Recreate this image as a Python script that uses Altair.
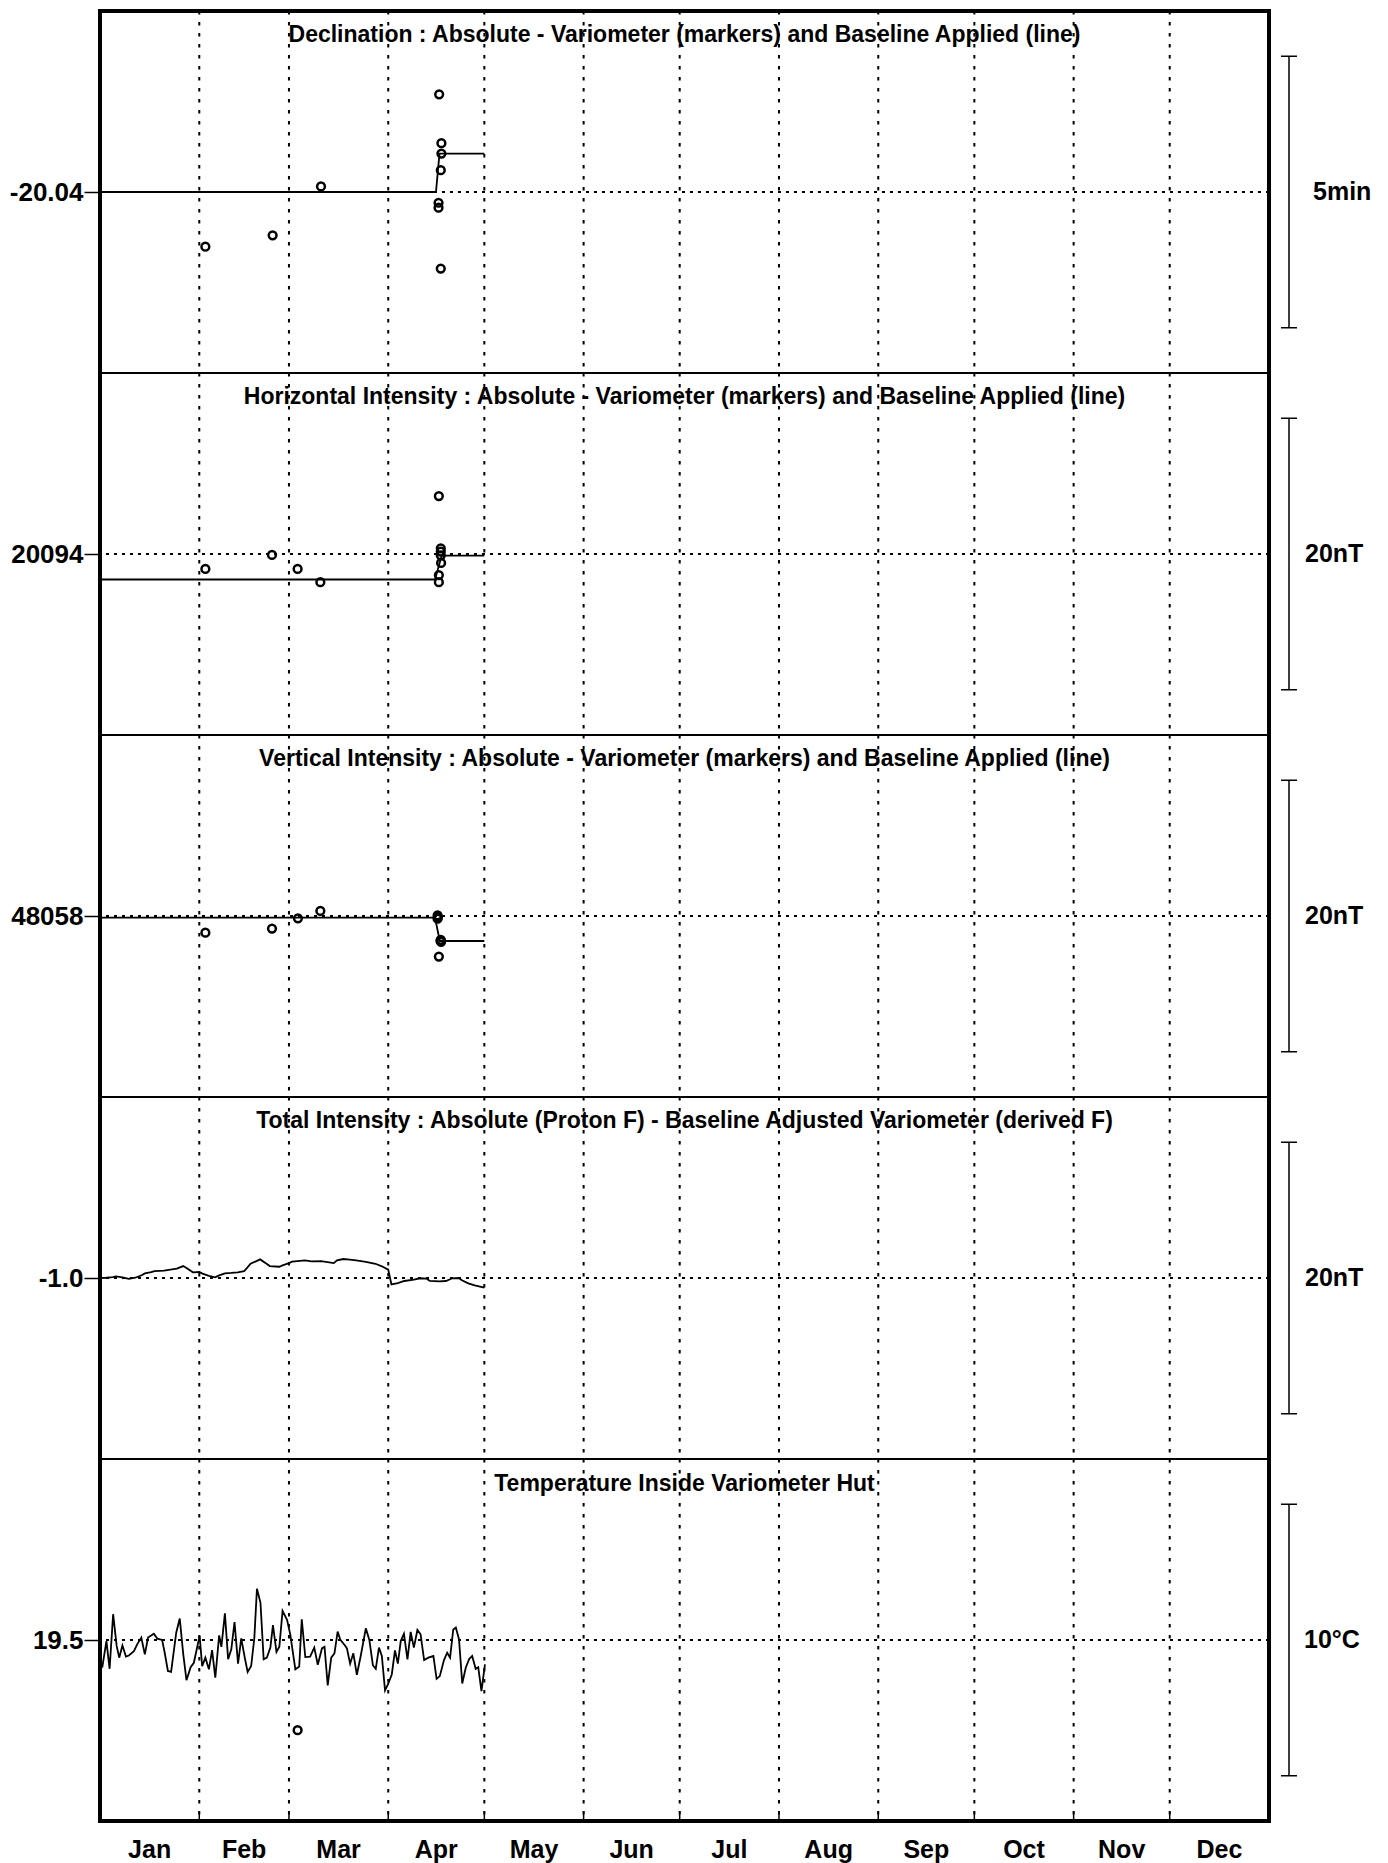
import altair as alt
import pandas as pd

FONT = "Liberation Sans"
W = 1169
H = 362

MONTHS = ["Jan", "Feb", "Mar", "Apr", "May", "Jun", "Jul", "Aug", "Sep", "Oct", "Nov", "Dec"]
MONTH_STARTS = [0, 31, 59, 90, 120, 151, 181, 212, 243, 273, 304, 334, 365]

PANEL_TITLES = [
    "Declination : Absolute - Variometer (markers) and Baseline Applied (line)",
    "Horizontal Intensity : Absolute - Variometer (markers) and Baseline Applied (line)",
    "Vertical Intensity : Absolute - Variometer (markers) and Baseline Applied (line)",
    "Total Intensity : Absolute (Proton F) - Baseline Adjusted Variometer (derived F)",
    "Temperature Inside Variometer Hut",
]
CENTERS = [-20.04, 20094, 48058, -1.0, 19.5]
SCALE_BAR = [5 / 60, 20, 20, 20, 10]
SCALE_LABELS = ["5min", "20nT", "20nT", "20nT", "10°C"]
FORMATS = [".2f", "d", "d", ".1f", ".1f"]

# Panel 1: Declination (degrees)
D_PT_DAY = [32.9, 53.9, 69.0, 105.9, 106.6, 106.6, 106.4, 105.7, 105.7, 106.4]
D_PT_VAL = [-20.0568, -20.0533, -20.0383, -20.0100, -20.0250, -20.0282, -20.0333, -20.0433, -20.0448, -20.0635]
D_BL_DAY = [0, 104.9, 106.0, 120]
D_BL_VAL = [-20.04, -20.04, -20.0282, -20.0282]

# Panel 2: Horizontal intensity (nT)
H_PT_DAY = [32.9, 53.7, 61.7, 68.8, 105.8, 106.4, 106.4, 106.4, 106.5, 105.8, 105.8]
H_PT_VAL = [20092.90, 20093.93, 20092.90, 20091.92, 20098.27, 20094.42, 20094.18, 20093.90, 20093.34, 20092.45, 20091.92]
H_BL_DAY = [0, 104.6, 106.7, 120]
H_BL_VAL = [20092.12, 20092.12, 20093.88, 20093.88]

# Panel 3: Vertical intensity (nT)
Z_PT_DAY = [32.9, 53.7, 61.8, 68.8, 105.4, 105.5, 105.4, 106.4, 106.5, 106.3, 105.8]
Z_PT_VAL = [48056.77, 48057.07, 48057.83, 48058.37, 48058.05, 48057.90, 48057.80, 48056.25, 48056.10, 48056.16, 48055.01]
Z_BL_DAY = [0, 104.6, 106.1, 120]
Z_BL_VAL = [48057.88, 48057.88, 48056.16, 48056.16]

# Panel 4: F difference (nT)
F_DAY = [0, 2, 4, 5, 7, 9, 11, 13, 14, 16, 17, 20, 22, 24, 26, 27, 29, 31, 32, 34,
         36, 37, 39, 41, 43, 45, 46, 47, 50, 52, 53, 56, 57, 59, 60, 64, 66, 69, 73, 74,
         76, 78, 80, 83, 86, 88, 90, 91, 93, 95, 98, 100, 102, 103, 106, 108, 110, 112, 113, 115,
         117, 120]
F_VAL = [-1.00, -0.98, -0.93, -0.88, -0.95, -1.07, -0.98, -0.80, -0.66, -0.56, -0.49, -0.46, -0.39, -0.31, -0.12, -0.26, -0.58, -0.56, -0.68, -0.85,
         -0.95, -0.83, -0.66, -0.63, -0.58, -0.49, -0.24, 0.05, 0.37, 0.05, -0.12, -0.17, -0.07, 0.10, 0.20, 0.30, 0.23, 0.25, 0.10, 0.30,
         0.40, 0.35, 0.30, 0.18, 0.05, -0.14, -0.39, -1.47, -1.37, -1.22, -1.12, -1.02, -1.05, -1.22, -1.25, -1.22, -1.02, -1.00, -1.17, -1.39,
         -1.54, -1.71]

# Panel 5: Temperature (deg C)
T_DAY = [0.7, 2.0, 3.0, 4.1, 5.2, 6.0, 7.0, 8.1, 9.0, 10.6, 11.6, 12.9, 14.0, 15.0, 16.8, 17.9, 19.4, 20.2, 21.2, 22.2,
         23.8, 24.9, 26.0, 27.0, 28.3, 29.3, 31.1, 31.9, 32.9, 34.0, 35.0, 36.0, 37.2, 37.9, 39.0, 40.0, 41.0, 42.0, 43.1, 44.1,
         45.2, 46.1, 47.2, 48.2, 49.0, 50.1, 51.1, 52.1, 53.2, 54.0, 55.1, 56.0, 57.0, 58.4, 59.4, 61.0, 62.2, 63.0, 64.1, 65.6,
         66.9, 68.0, 69.3, 70.1, 71.1, 72.2, 73.2, 74.2, 75.0, 76.6, 77.1, 78.1, 79.1, 80.2, 81.4, 83.0, 84.1, 85.2, 86.1, 87.1,
         88.0, 89.0, 90.0, 91.1, 92.1, 93.0, 93.9, 94.9, 96.0, 97.0, 98.0, 99.1, 100.1, 101.2, 102.5, 104.1, 105.1, 106.1, 107.4, 108.4,
         109.3, 110.3, 111.1, 112.1, 113.1, 114.2, 115.3, 116.2, 117.3, 118.1, 119.1, 120.2]
T_VAL = [18.48, 19.46, 18.44, 20.45, 19.28, 18.85, 19.30, 18.89, 18.93, 19.09, 19.34, 19.59, 18.97, 19.59, 19.73, 19.55, 19.50, 19.03, 18.36, 18.33,
         19.77, 20.29, 18.97, 18.02, 18.50, 18.66, 19.65, 18.54, 18.85, 18.42, 19.13, 18.11, 19.67, 19.25, 20.48, 18.79, 19.16, 20.16, 18.63, 19.56,
         18.85, 18.32, 18.54, 19.59, 21.39, 20.88, 18.79, 18.85, 19.22, 20.05, 19.06, 19.25, 20.57, 20.24, 19.71, 18.42, 18.52, 20.26, 18.87, 18.89,
         19.22, 18.59, 19.19, 19.25, 17.83, 18.85, 19.01, 19.81, 19.52, 19.28, 19.19, 18.63, 19.01, 18.22, 18.91, 19.93, 19.50, 18.57, 18.44, 19.22,
         18.91, 17.64, 17.89, 18.23, 19.12, 18.63, 19.46, 19.73, 18.79, 19.80, 19.22, 19.87, 19.71, 18.76, 18.85, 18.91, 18.07, 18.17, 18.76, 19.03,
         18.85, 19.89, 19.96, 19.52, 17.90, 18.48, 18.81, 18.91, 18.44, 18.50, 17.62, 18.60]
T_PT_DAY = [61.7]
T_PT_VAL = [16.18]

LINES = [
    (D_BL_DAY, D_BL_VAL),
    (H_BL_DAY, H_BL_VAL),
    (Z_BL_DAY, Z_BL_VAL),
    (F_DAY, F_VAL),
    (T_DAY, T_VAL),
]
POINTS = [
    (D_PT_DAY, D_PT_VAL),
    (H_PT_DAY, H_PT_VAL),
    (Z_PT_DAY, Z_PT_VAL),
    None,
    (T_PT_DAY, T_PT_VAL),
]
UNIT_DX = [44, 36, 36, 36, 35]
TITLE_Y = [24, 24, 24, 24, 25]

DUMMY = pd.DataFrame({"a": [0]})


def build_panel(i):
    c = CENTERS[i]
    bar = SCALE_BAR[i]
    ys = alt.Scale(domain=[c - bar * 2 / 3, c + bar * 2 / 3], nice=False, zero=False)
    xs = alt.Scale(domain=[0, 365], nice=False, zero=False)
    yaxis = alt.Axis(
        values=[c], format=FORMATS[i], title=None, grid=False, domain=False,
        labelExpr="replace(datum.label, '\u2212', '-')",
        labelFont=FONT, labelFontWeight="bold", labelFontSize=26, labelColor="black",
        labelPadding=1, tickSize=16, tickWidth=1.5, tickColor="black",
    )

    def YD(v):
        return alt.YDatum(v, type="quantitative", scale=ys, axis=yaxis)

    def Y(f):
        return alt.Y(f, type="quantitative", scale=ys, axis=yaxis)

    def X(f):
        return alt.X(f, type="quantitative", scale=xs, axis=None)

    layers = []
    grid_df = pd.DataFrame({"d": MONTH_STARTS[1:-1]})
    layers.append(
        alt.Chart(grid_df).mark_rule(color="black", strokeWidth=2, strokeDash=[3.5, 7.5]).encode(x=X("d"))
    )
    layers.append(
        alt.Chart(DUMMY).mark_rule(color="black", strokeWidth=2, strokeDash=[3, 5]).encode(y=YD(c))
    )
    ldays, lvals = LINES[i]
    line_df = pd.DataFrame({"day": ldays, "v": lvals})
    layers.append(
        alt.Chart(line_df).mark_line(color="black", strokeWidth=1.8).encode(x=X("day"), y=Y("v"), order="day:Q")
    )
    if POINTS[i] is not None:
        pdays, pvals = POINTS[i]
        pt_df = pd.DataFrame({"day": pdays, "v": pvals})
        layers.append(
            alt.Chart(pt_df).mark_point(shape="circle", filled=False, size=60, strokeWidth=2.5,
                                        color="black", opacity=1).encode(x=X("day"), y=Y("v"))
        )
    # scale bar on right
    layers.append(
        alt.Chart(DUMMY).mark_rule(color="black", strokeWidth=1.5).encode(
            x=alt.value(W + 20), y=YD(c - bar / 2), y2=alt.Y2Datum(c + bar / 2))
    )
    for v in (c - bar / 2, c + bar / 2):
        layers.append(
            alt.Chart(DUMMY).mark_rule(color="black", strokeWidth=1.5).encode(
                x=alt.value(W + 12), x2=alt.value(W + 28), y=YD(v))
        )
    layers.append(
        alt.Chart(DUMMY).mark_text(text=SCALE_LABELS[i], align="left", baseline="middle", font=FONT,
                                   fontSize=25, fontWeight="bold", color="black").encode(
            x=alt.value(W + UNIT_DX[i]), y=YD(c))
    )
    # panel title
    layers.append(
        alt.Chart(DUMMY).mark_text(text=PANEL_TITLES[i], align="center", baseline="middle", font=FONT,
                                   fontSize=23, fontWeight="bold", color="black").encode(
            x=alt.value(W / 2), y=alt.value(TITLE_Y[i]))
    )
    # panel separator
    if i > 0:
        layers.append(
            alt.Chart(DUMMY).mark_rule(color="black", strokeWidth=1.8).encode(
                x=alt.value(0), x2=alt.value(W), y=alt.value(0))
        )
    # thick frame
    for xv in (0, W):
        layers.append(
            alt.Chart(DUMMY).mark_rule(color="black", strokeWidth=4).encode(
                x=alt.value(xv), y=alt.value(0), y2=alt.value(H))
        )
    if i == 0:
        layers.append(
            alt.Chart(DUMMY).mark_rule(color="black", strokeWidth=4).encode(
                x=alt.value(-2), x2=alt.value(W + 2), y=alt.value(0))
        )
    if i == len(CENTERS) - 1:
        layers.append(
            alt.Chart(DUMMY).mark_rule(color="black", strokeWidth=4).encode(
                x=alt.value(-2), x2=alt.value(W + 2), y=alt.value(H))
        )
        layers.append(
            alt.Chart(grid_df).mark_rule(color="black", strokeWidth=1.5).encode(
                x=X("d"), y=alt.value(H - 10), y2=alt.value(H))
        )
        mid = [(MONTH_STARTS[k] + MONTH_STARTS[k + 1]) / 2 for k in range(12)]
        mdf = pd.DataFrame({"mid": mid, "name": MONTHS})
        layers.append(
            alt.Chart(mdf).mark_text(align="center", baseline="middle", font=FONT, fontSize=25,
                                     fontWeight="bold", color="black").encode(
                x=X("mid"), y=alt.value(H + 29), text="name:N")
        )
    return alt.layer(*layers).properties(width=W, height=H)


panels = [build_panel(i) for i in range(5)]
chart = (
    alt.vconcat(*panels, spacing=0, bounds="flush")
    .properties(padding={"left": 0, "top": 0, "right": 0, "bottom": 0})
    .configure_view(strokeWidth=0)
    .configure(background="white")
)
chart.save("out.html", embed_options={"renderer": "svg", "actions": False})
